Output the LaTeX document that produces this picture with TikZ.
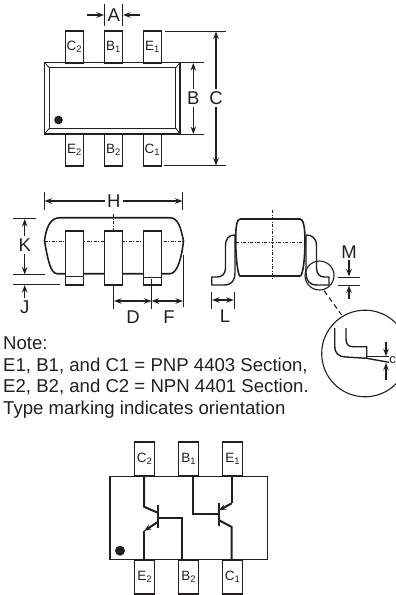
\documentclass[tikz,border=0pt]{standalone}
\usepackage{fontspec}
\setmainfont{Liberation Sans}
\usetikzlibrary{arrows.meta,positioning}
\definecolor{inkblack}{RGB}{35, 31, 32}
\begin{document}
\begin{tikzpicture}[x=1pt, y=-1pt, node distance=21pt, >={Stealth[length=7.5pt,width=5.5pt]}, color=inkblack,
			pinbox/.style={draw, rectangle, line width=1.5pt, minimum width=18pt, minimum height=32pt, inner sep=0pt, outer sep=0pt, font=\fontsize{13.5}{14}\selectfont},
			schempin/.style={pinbox, minimum width=20pt, minimum height=34pt},
			frontpin/.style={draw, fill=white, rectangle, line width=1.5pt, minimum width=18pt, minimum height=54pt, inner sep=0pt, outer sep=0pt},
			dimlabel/.style={draw=none, inner sep=2pt, font=\fontsize{18.5}{19}\selectfont},
			notetext/.style={draw=none, inner sep=0pt, anchor=base west, font=\fontsize{18.6}{19}\selectfont},
			dimLine/.style={line width=1.4pt, ->},
			extLine/.style={line width=1pt, -},
			centerLine/.style={line width=0.8pt, dash pattern=on 3pt off 1.5pt on 1pt off 1.5pt},
			bodyLine/.style={line width=1.6pt},
			wireLine/.style={line width=2pt}
			]
			\useasboundingbox (0,0) rectangle (396,595);
			
			% top view
			\node[draw, rectangle, line width=1.6pt, minimum width=135.5pt, minimum height=71.4pt, outer sep=0pt](topbody) at (112.25,98.3) {};
			\node[draw, rectangle, line width=1.1pt, minimum width=126.2pt, minimum height=60.3pt, outer sep=0pt](topinner) at (112.6,97.9) {};
			\foreach \c in {north west,north east,south west,south east}
				\draw [line width=0.8pt] (topbody.\c) to (topinner.\c);
			\fill (58.5,120) circle (4.3pt);
			
			\node[pinbox](tc2) at (74.5,47) {C\textsubscript{2}};
			\node[pinbox](tb1) [right = of tc2] {B\textsubscript{1}};
			\node[pinbox](te1) [right = of tb1] {E\textsubscript{1}};
			\node[pinbox](be2) at (74.5,149.9) {E\textsubscript{2}};
			\node[pinbox](bb2) [right = of be2] {B\textsubscript{2}};
			\node[pinbox](bc1) [right = of bb2] {C\textsubscript{1}};
			
			\node[dimlabel](labelA) at (113.7,15) {A};
			\node[dimlabel](labelB) at (193.3,98) {B};
			\node[dimlabel](labelC) at (216,98) {C};
			\coordinate (a0) at (87,15);
			\coordinate (a1) at (104,15);
			\coordinate (a2) at (140,15);
			\coordinate (a3) at (123,15);
			\draw [extLine] (tb1.north west) ++(0,-27) -- ++(0,22);
			\draw [extLine] (tb1.north east) ++(0,-27) -- ++(0,22);
			\draw [dimLine] (a0) to (a1);
			\draw [dimLine] (a2) to (a3);
			\coordinate (b0) at (193.3,63);
			\coordinate (b1) at (193.3,134);
			\coordinate (c0) at (216,31.5);
			\coordinate (c1) at (216,165.5);
			\draw [extLine] (181,62.7) -- (204,62.7);
			\draw [extLine] (181,134) -- (204,134);
			\draw [extLine] (165,31) -- (225.7,31);
			\draw [extLine] (164,165.7) -- (225.7,165.7);
			\draw [dimLine] (labelB) to (b0);
			\draw [dimLine] (labelB) to (b1);
			\draw [dimLine] (labelC) to (c0);
			\draw [dimLine] (labelC) to (c1);
			
			% front view
			\draw [bodyLine] (60,217.7) -- (170,217.7) .. controls (178,217.7) and (181,228) .. (183.5,241) .. controls (182,255) and (178,273.7) .. (170,273.7) -- (57,273.7) .. controls (50,273.7) and (47,255) .. (44.5,241) .. controls (46,228) and (50,217.7) .. (60,217.7);
			\draw [centerLine] (44.5,241) -- (183.5,241);
			\draw [centerLine] (113.7,214) -- (113.7,231);
			\node[frontpin](f0) at (74.3,258) {};
			\node[frontpin, right = 21pt of f0](f1) {};
			\node[frontpin, right = 21pt of f1](f2) {};
			\draw [line width=0.9pt] (f0.west |- 0,276) -- (f0.east |- 0,276);
			\draw [line width=0.9pt] (f2.west |- 0,277) -- (f2.east |- 0,277);
			
			\node[dimlabel](labelH) at (113.7,201) {H};
			\node[dimlabel](labelK) at (24.7,245) {K};
			\node[dimlabel](labelJ) at (24.7,307) {J};
			\node[dimlabel](labelD) at (133,317) {D};
			\node[dimlabel](labelF) at (169,317) {F};
			\coordinate (h0) at (44.5,201);
			\coordinate (h1) at (182.5,201);
			\draw [extLine] (44,192) -- (44,210);
			\draw [extLine] (182.7,192) -- (182.7,210);
			\draw [dimLine] (labelH) to (h0);
			\draw [dimLine] (labelH) to (h1);
			\draw [extLine] (13,218.7) -- (36,218.7);
			\draw [extLine] (13,274.7) -- (45,274.7);
			\draw [extLine] (13,284.3) -- (60,284.3);
			\coordinate (k0) at (24.7,219);
			\coordinate (k1) at (24.7,274.5);
			\coordinate (j0) at (24.7,285);
			\draw [dimLine] (labelK) to (k0);
			\draw [dimLine] (labelK) to (k1);
			\draw [dimLine] (labelJ) to (j0);
			\draw [extLine] (f1.south west |- 0,285) ++(9.4,0) -- ++(0,24);
			\draw [extLine] (151.7,279) -- (151.7,309);
			\draw [extLine] (183.3,255) -- (183.3,307);
			\coordinate (d0) at (114,301);
			\coordinate (d1) at (151.5,301);
			\coordinate (f3) at (183,301);
			\draw [line width=1.4pt, <->] (d0) to (d1);
			\draw [line width=1.4pt, <->] (d1) to (f3);
			
			% side view
			\draw [bodyLine] (240,219) -- (300,219) .. controls (303,219) and (305,226) .. (305,240) .. controls (305,258) and (303,276) .. (300,276) -- (240,276) .. controls (238,276) and (235.7,258) .. (235.7,240) .. controls (235.7,226) and (237,219) .. (240,219);
			\draw [centerLine] (236,242.3) -- (305,242.3);
			\draw [centerLine] (272.3,210) -- (272.3,280);
			\draw [line width=1.4pt] (235,235) .. controls (229,235) and (225.5,238) .. (225.5,246) -- (225.5,268) .. controls (225.5,274) and (222,277) .. (217,277) -- (211.7,277) -- (211.7,285) -- (224,285) .. controls (232,285) and (235,280) .. (235,273) -- (235,235);
			\draw [line width=1.4pt] (306,235) .. controls (312,235) and (316.5,238) .. (316.5,246) -- (316.5,268) .. controls (316.5,274) and (320,277) .. (324,277) -- (329,277) -- (329,285) -- (317,285) .. controls (309,285) and (306,280) .. (306,273) -- (306,235);
			\draw [extLine] (211.7,292) -- (211.7,309);
			\draw [extLine] (234,292) -- (234,309);
			\node[dimlabel](labelL) at (225,316) {L};
			\coordinate (l0) at (212,300);
			\coordinate (l1) at (233.7,300);
			\draw [line width=1.4pt, <->] (l0) to (l1);
			\node[dimlabel](labelM) at (349,252) {M};
			\draw [extLine] (337.5,277) -- (360,277);
			\draw [extLine] (337.5,285) -- (360,285);
			\coordinate (m0) at (349,260);
			\coordinate (m1) at (349,276.5);
			\coordinate (m2) at (349,299);
			\coordinate (m3) at (349,285.5);
			\draw [dimLine] (m0) to (m1);
			\draw [dimLine] (m2) to (m3);
			
			% detail circle
			\draw [line width=1.1pt] (319.5,275.5) circle (14.5pt);
			\coordinate (det0) at (324,290.7);
			\coordinate (det1) at (341.7,315);
			\draw [line width=1.1pt, dash pattern=on 5pt off 3.5pt] (det0) to (det1);
			\begin{scope}
			\clip (0,0) rectangle (396,595);
			\draw [line width=1.1pt] (365,353.5) circle (43.3pt);
			\end{scope}
			\node[dimlabel, inner sep=0pt, font=\fontsize{13}{14}\selectfont](labelc) at (392.6,360.5) {c};
			\draw [line width=1.4pt] (334.7,328) -- (334.7,346) .. controls (334.7,353) and (338,356.5) .. (346,357) -- (366.7,358.3) -- (389,362.3);
			\draw [line width=1.4pt] (346,328) -- (346,339) .. controls (346,344) and (348,346.7) .. (353,346.7) -- (366.7,346.7) -- (366.7,358.3);
			\draw [extLine] (366.7,356.7) -- (389,356.7);
			\coordinate (t0) at (386,341.7);
			\coordinate (t1) at (386,356.2);
			\coordinate (t2) at (386,379.7);
			\coordinate (t3) at (386,362.8);
			\draw [dimLine] (t0) to (t1);
			\draw [dimLine] (t2) to (t3);
			
			% note
			\node[notetext](note0) at (3,349) {Note:};
			\node[notetext](note1) at (3,371) {E1, B1, and C1 = PNP 4403 Section,};
			\node[notetext](note2) at (3,392.5) {E2, B2, and C2 = NPN 4401 Section.};
			\node[notetext](note3) at (3,414) {Type marking indicates orientation};
			
			% schematic
			\node[draw, rectangle, line width=1.5pt, minimum width=157.3pt, minimum height=83.4pt, outer sep=0pt](schem) at (188.65,518) {};
			\fill (120,550.7) circle (5pt);
			\node[schempin](sc2) at (144.7,458.8) {C\textsubscript{2}};
			\node[schempin](sb1) [right = 24pt of sc2] {B\textsubscript{1}};
			\node[schempin](se1) [right = 24pt of sb1] {E\textsubscript{1}};
			\node[schempin](se2) at (144.7,577) {E\textsubscript{2}};
			\node[schempin](sb2) [right = 24pt of se2] {B\textsubscript{2}};
			\node[schempin](sc1) [right = 24pt of sb2] {C\textsubscript{1}};
			
			\draw [wireLine] (144,476) -- (144,506.7) -- (157.7,512.7);
			\draw [wireLine] (157.7,505.3) -- (157.7,528.3);
			\draw [wireLine, ->] (157.7,522) -- (144,531);
			\draw [wireLine] (144,531) -- (144,560);
			\draw [wireLine] (157.7,517.7) -- (182.3,517.7) -- (182.3,560);
			\draw [wireLine] (231.7,476) -- (231.7,503.3);
			\draw [wireLine, ->] (231.7,503.3) -- (218.7,510.5);
			\draw [wireLine] (218.7,502.7) -- (218.7,525.7);
			\draw [wireLine] (193.3,476) -- (193.3,514.3) -- (218.7,514.3);
			\draw [wireLine] (218.7,520) -- (231.7,527) -- (231.7,560);
			\end{tikzpicture}
\end{document}
